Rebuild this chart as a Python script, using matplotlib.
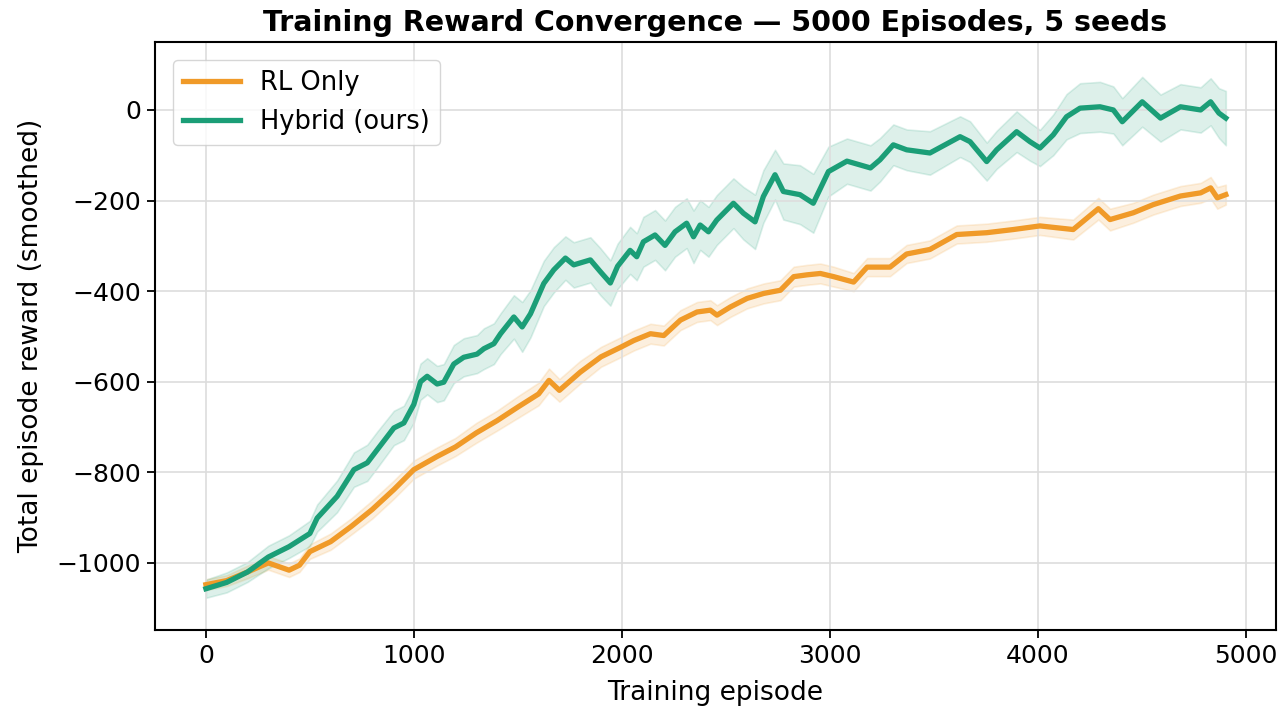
import matplotlib.pyplot as plt
import numpy as np

# Hybrid (ours): episode / smoothed mean reward / band half-width
hybrid_ep = [0, 100, 200, 300, 400, 500, 535, 631, 712, 776, 824, 904, 952,
             1000, 1032, 1064, 1112, 1144, 1192, 1240, 1304, 1337, 1385, 1417, 1481,
             1521, 1561, 1625, 1673, 1729, 1769, 1849, 1897, 1945, 1980,
             2040, 2072, 2104, 2160, 2208, 2256, 2312, 2345, 2377, 2417, 2457,
             2537, 2585, 2641, 2681, 2737, 2777, 2857, 2921, 2994,
             3083, 3196, 3242, 3306, 3370, 3482, 3627, 3675, 3755, 3803, 3899, 3963,
             4011, 4075, 4139, 4204, 4300, 4364, 4407, 4503, 4591, 4687, 4784, 4832, 4872, 4905]
hybrid_mean = [-1057, -1043, -1020, -987, -964, -935, -901, -853, -794, -779, -750, -702, -691,
               -650, -600, -588, -605, -601, -561, -546, -539, -527, -516, -494, -457,
               -479, -450, -383, -353, -327, -342, -331, -357, -382, -345,
               -310, -324, -291, -276, -299, -269, -250, -280, -254, -269, -243,
               -206, -228, -247, -191, -143, -180, -187, -206, -136,
               -113, -128, -110, -77, -88, -95, -59, -70, -114, -88, -48, -70,
               -84, -55, -15, 4, 7, 0, -26, 18, -18, 7, 0, 18, -7, -18]
hybrid_spread = [20, 22, 22, 25, 25, 28, 30, 35, 38, 40, 40, 38, 38,
                 40, 40, 40, 40, 40, 42, 42, 42, 45, 45, 45, 48,
                 55, 52, 50, 50, 48, 50, 50, 52, 50, 50,
                 52, 52, 55, 55, 55, 55, 55, 58, 55, 55, 55,
                 55, 58, 60, 58, 55, 62, 65, 65, 55,
                 50, 50, 48, 45, 45, 48, 45, 45, 42, 42, 45, 42,
                 40, 45, 50, 55, 55, 52, 52, 55, 52, 50, 50, 52, 55, 60]

# RL Only
rl_ep = [0, 100, 200, 300, 400, 450, 500, 600, 700, 800, 904,
         1000, 1112, 1200, 1300, 1400, 1500, 1600, 1650, 1700, 1800, 1900,
         1994, 2058, 2138, 2202, 2282, 2362, 2426, 2458, 2522, 2603, 2683, 2763, 2827, 2891, 2955,
         3019, 3115, 3180, 3290, 3370, 3482, 3611, 3755, 3883,
         4011, 4171, 4292, 4348, 4460, 4556, 4687, 4784, 4832, 4864, 4905]
rl_mean = [-1048, -1039, -1020, -1000, -1016, -1005, -975, -953, -919, -882, -838,
           -794, -765, -744, -713, -686, -656, -627, -597, -619, -579, -545,
           -524, -509, -494, -498, -464, -446, -442, -453, -435, -416, -405, -398, -368, -364, -361,
           -368, -380, -347, -347, -318, -308, -275, -271, -264,
           -256, -264, -218, -242, -227, -209, -190, -183, -172, -194, -187]
rl_spread = [12, 12, 14, 15, 15, 15, 16, 18, 18, 20, 20,
             20, 20, 20, 22, 22, 24, 25, 26, 25, 25, 22,
             22, 22, 22, 22, 22, 22, 22, 22, 22, 22, 22, 22, 22, 22, 22,
             22, 20, 20, 20, 20, 20, 20, 20, 20,
             20, 22, 24, 24, 22, 22, 22, 22, 24, 24, 22]

rl_color = "#F09A28"
hybrid_color = "#1B9E77"

fig, ax = plt.subplots(figsize=(12.86, 7.18), dpi=100)

for ep, mean, spread, color, label in [
    (rl_ep, rl_mean, rl_spread, rl_color, "RL Only"),
    (hybrid_ep, hybrid_mean, hybrid_spread, hybrid_color, "Hybrid (ours)"),
]:
    ep = np.array(ep)
    mean = np.array(mean, dtype=float)
    spread = np.array(spread, dtype=float)
    ax.fill_between(ep, mean - spread, mean + spread, color=color, alpha=0.15, lw=1.2)
    ax.plot(ep, mean, color=color, lw=3.8, label=label)

ax.set_title("Training Reward Convergence \u2014 5000 Episodes, 5 seeds",
             fontsize=20.5, fontweight="bold", pad=8)
ax.set_xlabel("Training episode", fontsize=19, labelpad=9)
ax.set_ylabel("Total episode reward (smoothed)", fontsize=19, labelpad=9)
ax.tick_params(labelsize=18, length=6, width=1.3, pad=4)
ax.set_xlim(-245, 5145)
ax.set_ylim(-1148, 150)
ax.set_xticks([0, 1000, 2000, 3000, 4000, 5000])
ax.set_yticks([-1000, -800, -600, -400, -200, 0])
ax.grid(True, color="#dddddd", lw=1.2)
for s in ax.spines.values():
    s.set_linewidth(1.5)
ax.legend(loc="upper left", fontsize=18.5, handlelength=2.2, borderaxespad=0.7)

plt.subplots_adjust(left=0.1205, right=0.992, top=0.9415, bottom=0.1226)
plt.savefig("out.png")
